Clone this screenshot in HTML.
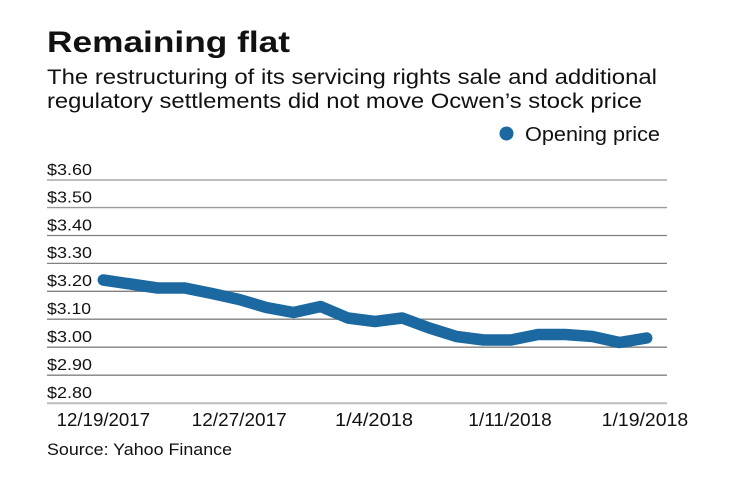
<!DOCTYPE html>
<html>
<head>
<meta charset="utf-8">
<style>
  html, body { margin: 0; padding: 0; background: #ffffff; }
  svg { display: block; }
  text { font-family: "Liberation Sans", "DejaVu Sans", sans-serif; fill: #111111; }
</style>
</head>
<body>
<svg width="740" height="482" viewBox="0 0 740 482" xmlns="http://www.w3.org/2000/svg">
  <rect width="740" height="482" fill="#ffffff"/>

  <!-- Title & subtitle -->
  <text x="47" y="52" font-size="30" font-weight="bold" textLength="243" lengthAdjust="spacingAndGlyphs">Remaining flat</text>
  <text x="47" y="84" font-size="21.5" textLength="610" lengthAdjust="spacingAndGlyphs">The restructuring of its servicing rights sale and additional</text>
  <text x="47" y="108" font-size="21.5" textLength="595" lengthAdjust="spacingAndGlyphs">regulatory settlements did not move Ocwen’s stock price</text>

  <!-- Legend -->
  <circle cx="506.5" cy="133.5" r="7" fill="#1b69a0"/>
  <text x="525" y="141" font-size="20.5" textLength="135" lengthAdjust="spacingAndGlyphs">Opening price</text>

  <!-- Gridlines -->
  <line x1="47" x2="667" y1="180" y2="180" stroke="#bdbdbd" stroke-width="2"/>
  <line x1="47" x2="667" y1="207.6" y2="207.6" stroke="#9a9a9a" stroke-width="1.4"/>
  <line x1="47" x2="667" y1="235.5" y2="235.5" stroke="#808080" stroke-width="1.3"/>
  <line x1="47" x2="667" y1="263.4" y2="263.4" stroke="#808080" stroke-width="1.3"/>
  <line x1="47" x2="667" y1="291.3" y2="291.3" stroke="#808080" stroke-width="1.3"/>
  <line x1="47" x2="667" y1="319.2" y2="319.2" stroke="#808080" stroke-width="1.3"/>
  <line x1="47" x2="667" y1="347.2" y2="347.2" stroke="#808080" stroke-width="1.3"/>
  <line x1="47" x2="667" y1="375.2" y2="375.2" stroke="#808080" stroke-width="1.3"/>
  <line x1="47" x2="667" y1="403.2" y2="403.2" stroke="#bdbdbd" stroke-width="2"/>

  <!-- Y labels -->
  <g font-size="16">
    <text x="47" y="174.8" textLength="45" lengthAdjust="spacingAndGlyphs">$3.60</text>
    <text x="47" y="202.4" textLength="45" lengthAdjust="spacingAndGlyphs">$3.50</text>
    <text x="47" y="230.3" textLength="45" lengthAdjust="spacingAndGlyphs">$3.40</text>
    <text x="47" y="258.2" textLength="45" lengthAdjust="spacingAndGlyphs">$3.30</text>
    <text x="47" y="286.1" textLength="45" lengthAdjust="spacingAndGlyphs">$3.20</text>
    <text x="47" y="314.0" textLength="44" lengthAdjust="spacingAndGlyphs">$3.10</text>
    <text x="47" y="342.0" textLength="45" lengthAdjust="spacingAndGlyphs">$3.00</text>
    <text x="47" y="370.0" textLength="45" lengthAdjust="spacingAndGlyphs">$2.90</text>
    <text x="47" y="398.0" textLength="45" lengthAdjust="spacingAndGlyphs">$2.80</text>
  </g>

  <!-- Data line -->
  <polyline fill="none" stroke="#1b69a0" stroke-width="11.5" stroke-linecap="round" stroke-linejoin="round"
    points="103.3,280 130.5,284 157.6,288 184.8,288 212,293.5 239.2,299.5 266.3,307.5 293.5,312.5 320.7,306.5 347.8,318 375,321.5 402.2,318 429.3,328 456.5,336.5 483.7,340 510.9,340 538,334.5 565.2,334.5 592.4,336.5 619.5,342.5 646.7,338"/>

  <!-- X labels -->
  <g font-size="18.5">
    <text x="56.7" y="426" textLength="93.3" lengthAdjust="spacingAndGlyphs">12/19/2017</text>
    <text x="191.7" y="426" textLength="95" lengthAdjust="spacingAndGlyphs">12/27/2017</text>
    <text x="335" y="426" textLength="78" lengthAdjust="spacingAndGlyphs">1/4/2018</text>
    <text x="468.3" y="426" textLength="83.5" lengthAdjust="spacingAndGlyphs">1/11/2018</text>
    <text x="601.7" y="426" textLength="86.5" lengthAdjust="spacingAndGlyphs">1/19/2018</text>
  </g>

  <!-- Source -->
  <text x="47" y="455" font-size="16.5" textLength="185" lengthAdjust="spacingAndGlyphs">Source: Yahoo Finance</text>
</svg>
</body>
</html>
